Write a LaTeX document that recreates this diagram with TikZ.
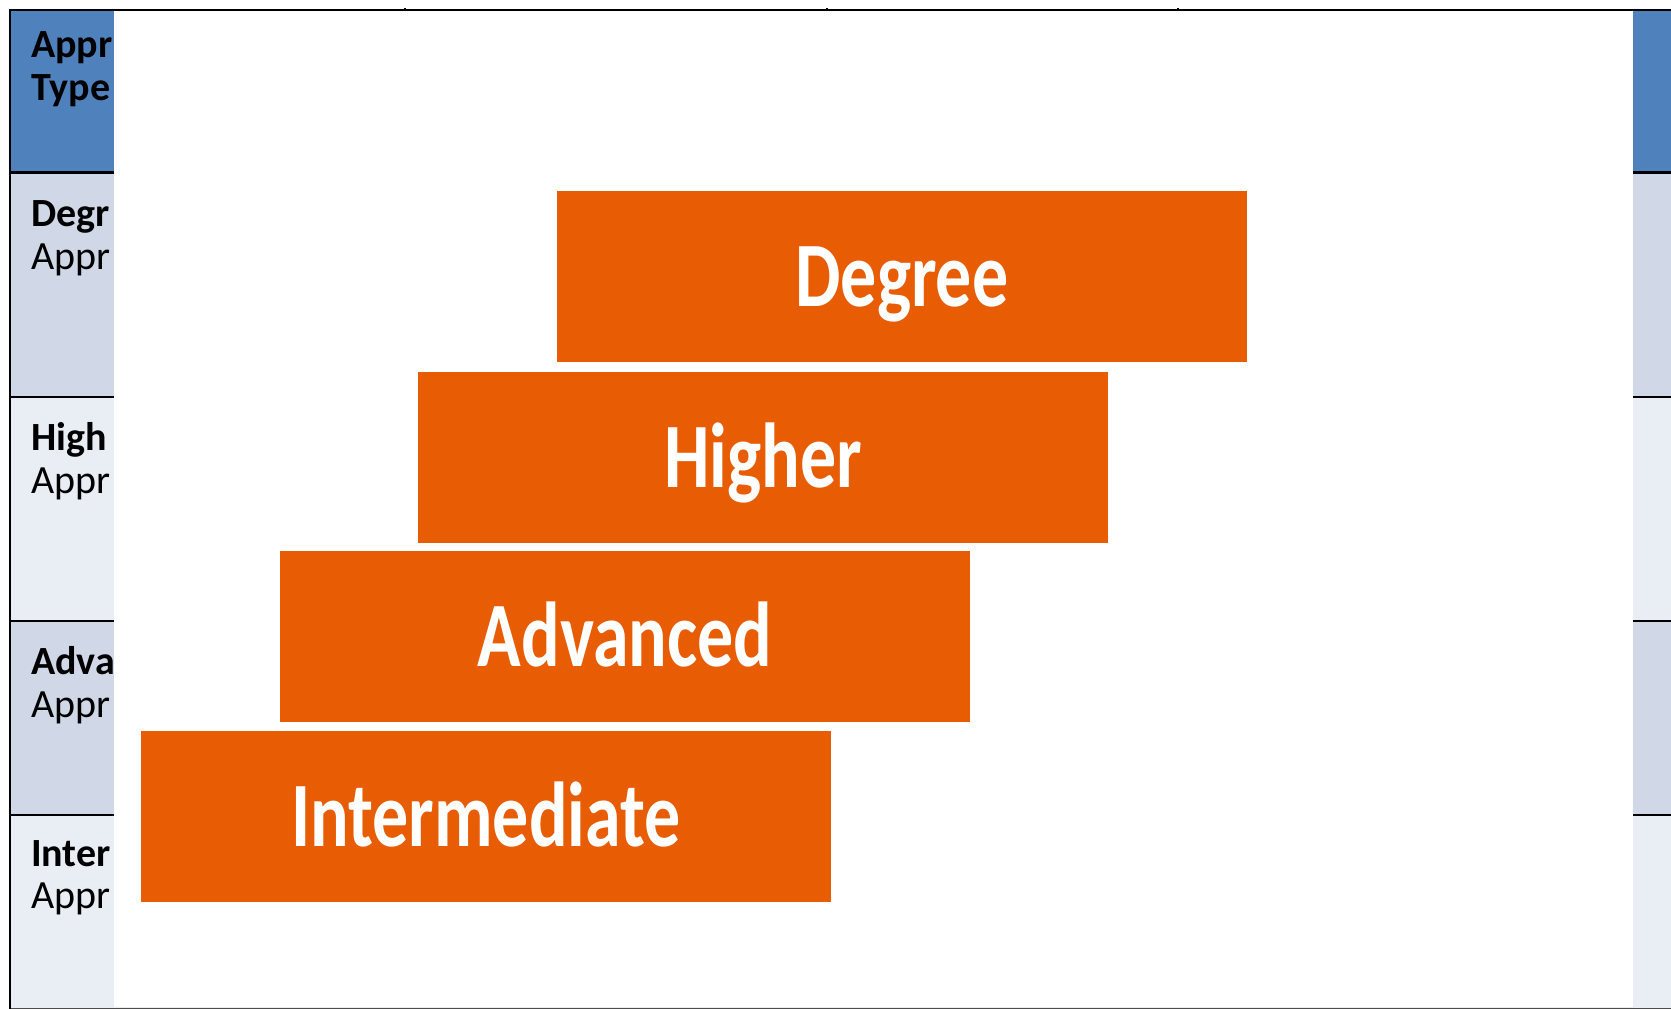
\documentclass[tikz,border=0pt]{standalone}
\usepackage{fontspec}
\setmainfont{Carlito}
\usepackage{graphicx}
\usetikzlibrary{positioning}
\definecolor{hdrblue}{RGB}{79,129,189}
\definecolor{rowdark}{RGB}{208,216,232}
\definecolor{rowlight}{RGB}{233,237,244}
\definecolor{barorange}{RGB}{232,92,4}
\newcommand{\tallword}[1]{\scalebox{1}[1.28]{#1}}

\begin{document}
\begin{tikzpicture}[x=1pt, y=-1pt]
\tikzstyle{every node} = [inner sep=0pt, outer sep=0pt]
\tikzstyle{cell} = [anchor=base west, font=\fontsize{40}{46}\selectfont]
\tikzstyle{cellhead} = [anchor=base west, font=\fontsize{40}{46}\selectfont\bfseries]
\tikzstyle{bar} = [fill=barorange, minimum width=690pt, minimum height=171pt, anchor=north west]
\tikzstyle{bartext} = [text=white, anchor=base, yshift=-30pt, font=\fontsize{72}{80}\selectfont\bfseries]
\useasboundingbox (0,0) rectangle (1671,1009);
% table behind the picture
\fill[hdrblue] (10,10) rectangle (1671,172);
\fill[rowdark] (10,172) rectangle (1671,397);
\fill[rowlight] (10,397) rectangle (1671,621);
\fill[rowdark] (10,621) rectangle (1671,815);
\fill[rowlight] (10,815) rectangle (1671,1008);
\node[cellhead] (h1) at (31,57) {Appr};
\node[cellhead] (h2) at (31,100) {Type};
\node[cellhead] (d1) at (31,226) {Degr};
\node[cell] (d2) at (31,269) {Appr};
\node[cellhead] (g1) at (31,450) {High};
\node[cell] (g2) at (31,493) {Appr};
\node[cellhead] (a1) at (31,674) {Adva};
\node[cell] (a2) at (31,717) {Appr};
\node[cellhead] (i1) at (31,866) {Inter};
\node[cell] (i2) at (31,908) {Appr};
\draw[line width=3pt] (10,172) -- (1671,172);
\draw[line width=2pt] (10,397) -- (1671,397)
	(10,621) -- (1671,621)
	(10,815) -- (1671,815);
\draw[line width=1pt, black!70] (10,1008) -- (1671,1008);
\draw[line width=2pt] (10,9) -- (10,1009);
% the picture pasted on top
\fill[white] (114,11) rectangle (1633,1007);
\draw[line width=1.5pt] (9,10) -- (1671,10);
\draw[line width=1.5pt] (405,8) -- (405,11)
	(827,8) -- (827,11)
	(1178,8) -- (1178,11);
\node[bar] (int) at (141,731) {};
\node[bar] (adv) at (280,551) {};
\node[bar] (hig) at (418,372) {};
\node[bar] (deg) at (557,191) {};
\node[bartext] (tint) at (int.center) {\tallword{Intermediate}};
\node[bartext] (tadv) at (adv.center) {\tallword{Advanced}};
\node[bartext] (thig) at (hig.center) {\tallword{Higher}};
\node[bartext] (tdeg) at (deg.center) {\tallword{Degree}};
\end{tikzpicture}
\end{document}
